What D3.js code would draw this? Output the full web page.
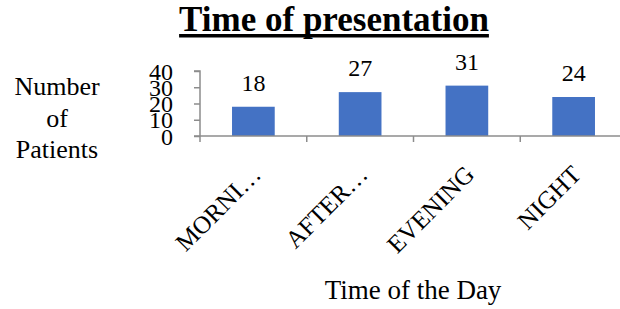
<!DOCTYPE html>
<html>
<head>
<meta charset="utf-8">
<script src="https://cdn.jsdelivr.net/npm/d3@7"></script>
<style>
  body { margin: 0; background: #fff; }
  svg text { font-family: "Liberation Serif", "Times New Roman", serif; fill: #000; }
</style>
</head>
<body>
<svg id="chart" width="620" height="309"></svg>
<script>
/* ---------- data ---------- */
const categories = ["MORNING", "AFTERNOON", "EVENING", "NIGHT"];
const tickLabels = ["MORNI…", "AFTER…", "EVENING", "NIGHT"];
const patients = [18, 27, 31, 24];
const yTicks = [0, 10, 20, 30, 40];

const svg = d3.select("#chart");
const axisGrey = "#8c8c8c";

/* ---------- scales ---------- */
const x = d3.scaleBand()
  .domain(categories)
  .range([200, 627])
  .paddingInner(0.6)
  .paddingOuter(0.3);
const y = d3.scaleLinear().domain([0, 40]).range([136, 71]);

/* ---------- title ---------- */
const title = svg.append("text")
  .attr("x", 334)
  .attr("y", 31)
  .attr("text-anchor", "middle")
  .style("font-size", "35px")
  .style("font-weight", "bold")
  .text("Time of presentation");
const tb = title.node().getBBox();
svg.append("rect")
  .attr("x", tb.x)
  .attr("y", 34)
  .attr("width", tb.width)
  .attr("height", 3.5)
  .attr("fill", "#000");

/* ---------- y axis ---------- */
const yAxis = svg.append("g")
  .attr("transform", "translate(200,0)")
  .call(d3.axisLeft(y).tickValues(yTicks).tickSize(6).tickPadding(21));
yAxis.select(".domain").attr("stroke", axisGrey).attr("stroke-width", 1.5)
  .attr("d", `M-6,${y(40)}H0V${y(0)}`);
yAxis.selectAll(".tick line").attr("stroke", axisGrey).attr("stroke-width", 1.5);
yAxis.selectAll(".tick text")
  .style("font-size", "24px")
  .style("font-family", "Liberation Serif")
  .attr("dy", "0.34em");

/* ---------- bars ---------- */
svg.selectAll("rect.bar")
  .data(patients)
  .join("rect")
  .attr("class", "bar")
  .attr("x", (d, i) => x(categories[i]))
  .attr("y", d => y(d))
  .attr("width", x.bandwidth())
  .attr("height", d => y(0) - y(d))
  .attr("fill", "#4472c4");

svg.selectAll("text.val")
  .data(patients)
  .join("text")
  .attr("class", "val")
  .attr("x", (d, i) => x(categories[i]) + x.bandwidth() / 2)
  .attr("y", d => y(d) - 16)
  .attr("text-anchor", "middle")
  .style("font-size", "24px")
  .text(d => d);

/* ---------- x axis ---------- */
const gap = (x.step() - x.bandwidth()) / 2;
svg.append("line")
  .attr("x1", 194).attr("x2", 620)
  .attr("y1", y(0)).attr("y2", y(0))
  .attr("stroke", axisGrey).attr("stroke-width", 1.5);
svg.selectAll("line.xtick")
  .data(categories)
  .join("line")
  .attr("class", "xtick")
  .attr("x1", d => x(d) - gap).attr("x2", d => x(d) - gap)
  .attr("y1", y(0)).attr("y2", y(0) + 6)
  .attr("stroke", axisGrey).attr("stroke-width", 1.5);

svg.selectAll("text.cat")
  .data(categories)
  .join("text")
  .attr("class", "cat")
  .attr("text-anchor", "end")
  .attr("transform", d => {
    const cx = x(d) + x.bandwidth() / 2 + 9;
    return `translate(${cx},${y(0) + 40}) rotate(-45)`;
  })
  .style("font-size", "25px")
  .text((d, i) => tickLabels[i]);

/* ---------- axis titles ---------- */
svg.append("text")
  .attr("text-anchor", "middle")
  .style("font-size", "26px")
  .selectAll("tspan")
  .data(["Number", "of", "Patients"])
  .join("tspan")
  .attr("x", 57)
  .attr("y", (d, i) => 95 + i * 31.5)
  .text(d => d);

svg.append("text")
  .attr("x", 413)
  .attr("y", 299)
  .attr("text-anchor", "middle")
  .style("font-size", "27px")
  .text("Time of the Day");
</script>
</body>
</html>
